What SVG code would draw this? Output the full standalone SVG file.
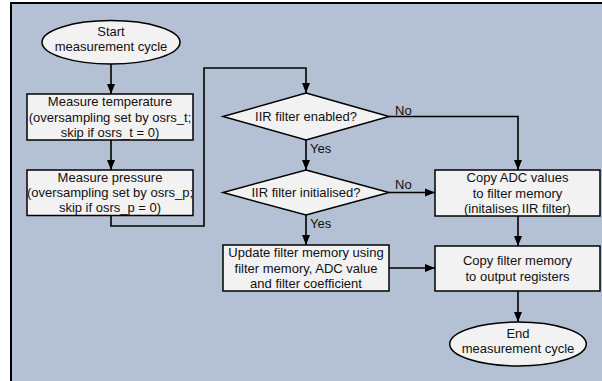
<svg xmlns="http://www.w3.org/2000/svg" width="602" height="381" viewBox="0 0 602 381">
  <style>
    .shape { fill: #f2f2f2; stroke: #000; stroke-width: 1.5; }
    .wire { fill: none; stroke: #000; stroke-width: 1.6; }
    text { font-family: "Liberation Sans", Arial, sans-serif; font-size: 13px; fill: #111; }
    .c { text-anchor: middle; }
  </style>
  <defs>
    <marker id="arrow" markerUnits="userSpaceOnUse" markerWidth="10" markerHeight="10" refX="10" refY="5" orient="auto">
      <path d="M0,1 L10,5 L0,9 z" fill="#000"/>
    </marker>
  </defs>

  <!-- page background and frame -->
  <rect x="0" y="0" width="602" height="381" fill="#fff"/>
  <rect x="11" y="3" width="591" height="378" fill="#b4c0d3"/>
  <path d="M11,381 V3 H602" fill="none" stroke="#000" stroke-width="2"/>

  <!-- connectors -->
  <g id="connectors">
    <path class="wire" d="M111,64 V94" marker-end="url(#arrow)"/>
    <path class="wire" d="M111,140 V170" marker-end="url(#arrow)"/>
    <path class="wire" d="M111,215.5 V226 H204 V68 H306 V93" marker-end="url(#arrow)"/>
    <path class="wire" d="M306,140 V170" marker-end="url(#arrow)"/>
    <path class="wire" d="M389,116.5 H518 V170" marker-end="url(#arrow)"/>
    <path class="wire" d="M389,192.5 H435" marker-end="url(#arrow)"/>
    <path class="wire" d="M306,215 V245" marker-end="url(#arrow)"/>
    <path class="wire" d="M518,216 V246" marker-end="url(#arrow)"/>
    <path class="wire" d="M389,268 H435" marker-end="url(#arrow)"/>
    <path class="wire" d="M518,291 V322" marker-end="url(#arrow)"/>
    <text x="395" y="114.5">No</text>
    <text x="395" y="189">No</text>
    <text x="310" y="152.5">Yes</text>
    <text x="310" y="228">Yes</text>
  </g>

  <g id="start">
    <ellipse class="shape" cx="111" cy="42.3" rx="69" ry="21.7"/>
    <text class="c" x="111" y="36">Start</text>
    <text class="c" x="111" y="51">measurement cycle</text>
  </g>

  <g id="measure-temperature">
    <rect class="shape" x="27" y="94" width="166" height="46"/>
    <text class="c" x="110" y="106.3">Measure temperature</text>
    <text class="c" x="110" y="121.6">(oversampling set by osrs_t;</text>
    <text class="c" x="110" y="136.8">skip if osrs_t = 0)</text>
  </g>

  <g id="measure-pressure">
    <rect class="shape" x="27" y="170" width="166" height="45.5"/>
    <text class="c" x="110" y="181.5">Measure pressure</text>
    <text class="c" x="110" y="196.8">(oversampling set by osrs_p;</text>
    <text class="c" x="110" y="212">skip if osrs_p = 0)</text>
  </g>

  <g id="iir-enabled">
    <polygon class="shape" points="306,93 389,116.5 306,140 223,116.5"/>
    <text class="c" x="306" y="121">IIR filter enabled?</text>
  </g>

  <g id="iir-initialised">
    <polygon class="shape" points="306,170 389,192.5 306,215 223,192.5"/>
    <text class="c" x="306" y="197">IIR filter initialised?</text>
  </g>

  <g id="copy-adc">
    <rect class="shape" x="435" y="170" width="165" height="46"/>
    <text class="c" x="517.5" y="182">Copy ADC values</text>
    <text class="c" x="517.5" y="197.5">to filter memory</text>
    <text class="c" x="517.5" y="212.8">(initalises IIR filter)</text>
  </g>

  <g id="update-filter">
    <rect class="shape" x="223" y="245" width="166" height="46"/>
    <text class="c" x="306" y="257">Update filter memory using</text>
    <text class="c" x="306" y="272.5">filter memory, ADC value</text>
    <text class="c" x="306" y="287.8">and filter coefficient</text>
  </g>

  <g id="copy-output">
    <rect class="shape" x="435" y="246" width="165" height="45"/>
    <text class="c" x="517.5" y="265">Copy filter memory</text>
    <text class="c" x="517.5" y="280.5">to output registers</text>
  </g>

  <g id="end">
    <ellipse class="shape" cx="518" cy="344" rx="68.3" ry="22"/>
    <text class="c" x="518" y="337.8">End</text>
    <text class="c" x="518" y="353.3">measurement cycle</text>
  </g>
</svg>
